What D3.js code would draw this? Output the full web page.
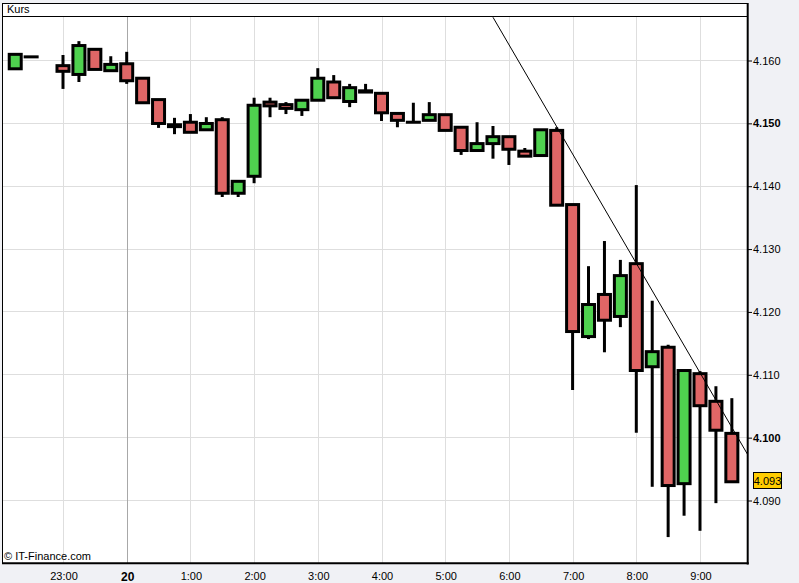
<!DOCTYPE html>
<html><head><meta charset="utf-8">
<script src="https://cdn.jsdelivr.net/npm/d3@7"></script>
<style>
body{margin:0;background:#f0f1f5;}
svg{display:block;font-family:"Liberation Sans",Arial,sans-serif;}
</style>
</head><body>
<svg id="chart" width="799" height="583"></svg>
<script>
// ---- data ----
const times = ["19 22:15","19 22:30","19 23:00","19 23:15","19 23:30","19 23:45",
  "20 00:00","20 00:15","20 00:30","20 00:45","20 01:00","20 01:15","20 01:30","20 01:45",
  "20 02:00","20 02:15","20 02:30","20 02:45","20 03:00","20 03:15","20 03:30","20 03:45",
  "20 04:00","20 04:15","20 04:30","20 04:45","20 05:00","20 05:15","20 05:30","20 05:45",
  "20 06:00","20 06:15","20 06:30","20 06:45","20 07:00","20 07:15","20 07:30","20 07:45",
  "20 08:00","20 08:15","20 08:30","20 08:45","20 09:00","20 09:15","20 09:30"];
const opens  = [4.1586,4.1605,4.1591,4.1577,4.1617,4.1583,
  4.1594,4.1571,4.1537,4.1497,4.1501,4.1489,4.1505,4.1388,
  4.1415,4.1533,4.1529,4.1521,4.1536,4.1565,4.1534,4.1551,
  4.1547,4.1515,4.1501,4.1504,4.1513,4.1493,4.1456,4.1467,
  4.1478,4.1455,4.1448,4.1488,4.1370,4.1160,4.1227,4.1192,
  4.1276,4.1112,4.1143,4.0926,4.1101,4.1057,4.1006];
const highs  = [4.1609,4.1605,4.1608,4.1630,4.1617,4.1606,
  4.1613,4.1571,4.1537,4.1508,4.1514,4.1509,4.1509,4.1407,
  4.1540,4.1540,4.1533,4.1536,4.1587,4.1576,4.1562,4.1562,
  4.1547,4.1515,4.1532,4.1533,4.1513,4.1493,4.1501,4.1495,
  4.1478,4.1460,4.1489,4.1493,4.1370,4.1272,4.1312,4.1282,
  4.1401,4.1217,4.1147,4.1106,4.1105,4.1081,4.1062];
const lows   = [4.1586,4.1605,4.1554,4.1565,4.1585,4.1583,
  4.1562,4.1532,4.1492,4.1482,4.1485,4.1489,4.1382,4.1382,
  4.1404,4.1509,4.1514,4.1511,4.1536,4.1540,4.1525,4.1549,
  4.1503,4.1493,4.1501,4.1504,4.1488,4.1449,4.1456,4.1443,
  4.1433,4.1447,4.1448,4.1369,4.1075,4.1156,4.1135,4.1175,
  4.1007,4.0921,4.0841,4.0875,4.0851,4.0895,4.0929];
const closes = [4.1609,4.1605,4.1582,4.1623,4.1585,4.1593,
  4.1567,4.1532,4.1499,4.1494,4.1485,4.1499,4.1388,4.1407,
  4.1528,4.1527,4.1523,4.1536,4.1571,4.1540,4.1556,4.1549,
  4.1516,4.1504,4.1501,4.1513,4.1488,4.1456,4.1467,4.1478,
  4.1458,4.1447,4.1489,4.1369,4.1168,4.1211,4.1186,4.1257,
  4.1106,4.1136,4.0923,4.1106,4.1050,4.1011,4.0929];
const yTicks = [4.09,4.10,4.11,4.12,4.13,4.14,4.15,4.16];
const yBoldTicks = [4.10,4.15];
const xTickTimes  = ["19 23:00","20 00:00","20 01:00","20 02:00","20 03:00","20 04:00","20 05:00","20 06:00","20 07:00","20 08:00","20 09:00"];
const xTickLabels = ["23:00","20","1:00","2:00","3:00","4:00","5:00","6:00","7:00","8:00","9:00"];
const trendTimes  = ["20 05:45","20 09:45"];
const trendValues = [4.1668,4.0972];
const lastPrice = 4.093;
const title = "Kurs";
const credit = "© IT-Finance.com";

// ---- layout ----
const parse = d3.timeParse("%d %H:%M");
const P = {l:2, r:748, t:17, b:564, top:3};
const svg = d3.select("#chart");

const x = d3.scaleTime()
  .domain([parse("19 22:00"), parse("20 10:00")])
  .range([-0.7, -0.7 + 12*63.7]);
const y = d3.scaleLinear().domain([4.09, 4.16]).range([500, 60]);

const candles = times.map((t,i)=>({t:parse(t), o:opens[i], h:highs[i], l:lows[i], c:closes[i]}));

svg.append("defs").append("clipPath").attr("id","plotclip")
  .append("rect").attr("x",P.l).attr("y",P.t).attr("width",P.r-P.l).attr("height",P.b-P.t);

svg.append("rect").attr("x",P.l).attr("y",P.top).attr("width",P.r-P.l).attr("height",P.b-P.top).attr("fill","#fff");

const plot = svg.append("g").attr("clip-path","url(#plotclip)");

// grid
plot.selectAll("line.hg").data(yTicks).join("line")
  .attr("x1",P.l).attr("x2",P.r)
  .attr("y1",d=>Math.round(y(d))+0.5).attr("y2",d=>Math.round(y(d))+0.5)
  .attr("stroke","#dedede").attr("stroke-width",1);
plot.selectAll("line.vg").data(xTickTimes).join("line")
  .attr("x1",d=>Math.round(x(parse(d)))+0.5).attr("x2",d=>Math.round(x(parse(d)))+0.5)
  .attr("y1",P.t).attr("y2",P.b)
  .attr("stroke",d=>d==="20 00:00" ? "#a8a8a8" : "#dedede").attr("stroke-width",1);

// candles
const cg = plot.append("g");
cg.selectAll("line.wick").data(candles).join("line")
  .attr("x1",d=>x(d.t)).attr("x2",d=>x(d.t))
  .attr("y1",d=>y(d.h)).attr("y2",d=>y(d.l))
  .attr("stroke","#000").attr("stroke-width",3);
cg.selectAll("rect.body").data(candles).join("rect")
  .attr("x",d=>x(d.t)-6).attr("width",12)
  .attr("y",d=>y(Math.max(d.o,d.c)))
  .attr("height",d=>Math.max(0.01, Math.abs(y(d.o)-y(d.c))))
  .attr("fill",d=>d.c>=d.o ? "#4fd24f" : "#e06666")
  .attr("stroke","#000").attr("stroke-width",3);

// trend line
plot.append("line")
  .attr("x1",x(parse(trendTimes[0]))).attr("y1",y(trendValues[0]))
  .attr("x2",x(parse(trendTimes[1]))).attr("y2",y(trendValues[1]))
  .attr("stroke","#000").attr("stroke-width",1);

// credit
svg.append("text").attr("x",4).attr("y",560).attr("font-size",11).attr("fill","#000").text(credit);

// frame
svg.append("rect").attr("x",P.l+0.5).attr("y",P.top+0.5).attr("width",P.r-P.l-1).attr("height",P.b-P.top-1)
  .attr("fill","none").attr("stroke","#000").attr("stroke-width",1);
svg.append("line").attr("x1",P.l).attr("x2",P.r).attr("y1",16.5).attr("y2",16.5).attr("stroke","#000");
svg.append("line").attr("x1",P.r-0.3).attr("x2",P.r-0.3).attr("y1",P.top).attr("y2",P.b+0.5).attr("stroke","#000").attr("stroke-width",2);
svg.append("line").attr("x1",P.l).attr("x2",P.r+0.7).attr("y1",P.b-0.7).attr("y2",P.b-0.7).attr("stroke","#000").attr("stroke-width",2);
svg.append("text").attr("x",7).attr("y",13).attr("font-size",11).attr("fill","#000").text(title);

// y axis
const yAxis = d3.axisRight(y).tickValues(yTicks).tickSize(4).tickPadding(1).tickFormat(d3.format(".3f"));
const ya = svg.append("g").attr("transform",`translate(${P.r},0.5)`).call(yAxis);
ya.select(".domain").remove();
ya.selectAll("line").attr("stroke","#000");
ya.selectAll("text").attr("font-size",11).attr("font-family","Liberation Sans, Arial, sans-serif").attr("fill","#000")
  .attr("font-weight",d=>yBoldTicks.some(b=>Math.abs(b-d)<1e-9) ? "bold" : "normal");

// x axis
const xa = svg.append("g").attr("transform",`translate(0.5,${P.b})`)
  .call(d3.axisBottom(x).tickValues(xTickTimes.map(parse)).tickSize(0).tickPadding(8)
    .tickFormat((d,i)=>xTickLabels[i]));
xa.select(".domain").remove();
xa.selectAll("text").attr("font-family","Liberation Sans, Arial, sans-serif").attr("fill","#000")
  .attr("font-weight",(d,i)=>xTickLabels[i]==="20" ? "bold" : "normal")
  .attr("font-size",(d,i)=>xTickLabels[i]==="20" ? 12 : 11);

// last price label
const ly = y(lastPrice);
svg.append("rect").attr("x",753.5).attr("y",Math.round(ly)-8.5).attr("width",28).attr("height",16)
  .attr("fill","#ffcc00").attr("stroke","#000").attr("stroke-width",1);
svg.append("text").attr("x",767.5).attr("y",Math.round(ly)).attr("dy","0.35em").attr("text-anchor","middle")
  .attr("font-size",11).attr("fill","#000").text(d3.format(".3f")(lastPrice));
</script>
</body></html>
